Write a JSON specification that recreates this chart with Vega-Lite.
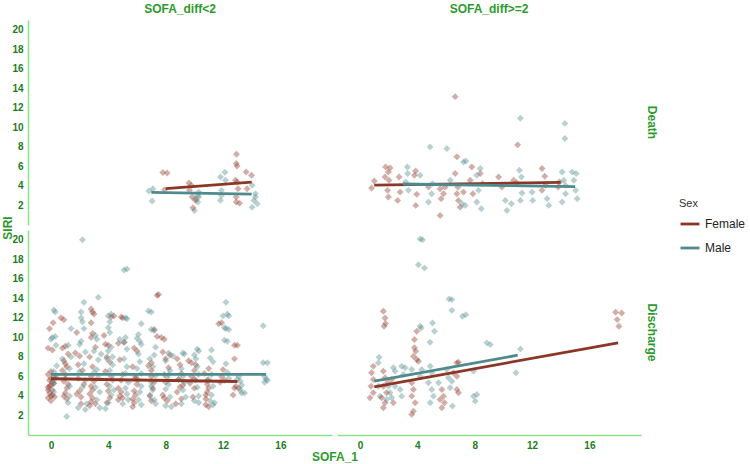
{
  "$schema": "https://vega.github.io/schema/vega-lite/v6.json",
  "padding": {"left": 2, "top": 3, "right": 2, "bottom": 2},
  "background": "white",
  "data": {
    "values": [
      {"diff":"SOFA_diff<2","outcome":"Death","sex":"Female","sofa":8.0,"siri":3.72,"fit":true},
      {"diff":"SOFA_diff<2","outcome":"Death","sex":"Female","sofa":14.0,"siri":4.40,"fit":true},
      {"diff":"SOFA_diff<2","outcome":"Death","sex":"Male","sofa":7.0,"siri":3.34,"fit":true},
      {"diff":"SOFA_diff<2","outcome":"Death","sex":"Male","sofa":14.0,"siri":3.17,"fit":true},
      {"diff":"SOFA_diff>=2","outcome":"Death","sex":"Female","sofa":1.0,"siri":4.09,"fit":true},
      {"diff":"SOFA_diff>=2","outcome":"Death","sex":"Female","sofa":14.0,"siri":4.37,"fit":true},
      {"diff":"SOFA_diff>=2","outcome":"Death","sex":"Male","sofa":3.0,"siri":4.20,"fit":true},
      {"diff":"SOFA_diff>=2","outcome":"Death","sex":"Male","sofa":15.0,"siri":3.93,"fit":true},
      {"diff":"SOFA_diff<2","outcome":"Discharge","sex":"Female","sofa":0.0,"siri":5.76,"fit":true},
      {"diff":"SOFA_diff<2","outcome":"Discharge","sex":"Female","sofa":13.0,"siri":5.48,"fit":true},
      {"diff":"SOFA_diff<2","outcome":"Discharge","sex":"Male","sofa":0.0,"siri":6.22,"fit":true},
      {"diff":"SOFA_diff<2","outcome":"Discharge","sex":"Male","sofa":15.0,"siri":6.22,"fit":true},
      {"diff":"SOFA_diff>=2","outcome":"Discharge","sex":"Female","sofa":1.0,"siri":4.94,"fit":true},
      {"diff":"SOFA_diff>=2","outcome":"Discharge","sex":"Female","sofa":18.0,"siri":9.44,"fit":true},
      {"diff":"SOFA_diff>=2","outcome":"Discharge","sex":"Male","sofa":1.0,"siri":5.51,"fit":true},
      {"diff":"SOFA_diff>=2","outcome":"Discharge","sex":"Male","sofa":11.0,"siri":8.17,"fit":true},

      {"diff":"SOFA_diff<2","outcome":"Death","sex":"Male","sofa":6.83,"siri":3.48},
      {"diff":"SOFA_diff<2","outcome":"Death","sex":"Male","sofa":7.11,"siri":3.72},
      {"diff":"SOFA_diff<2","outcome":"Death","sex":"Male","sofa":7.06,"siri":2.45},
      {"diff":"SOFA_diff<2","outcome":"Death","sex":"Male","sofa":10.01,"siri":1.49},
      {"diff":"SOFA_diff<2","outcome":"Death","sex":"Male","sofa":10.24,"siri":2.35},
      {"diff":"SOFA_diff<2","outcome":"Death","sex":"Male","sofa":10.24,"siri":3.03},
      {"diff":"SOFA_diff<2","outcome":"Death","sex":"Male","sofa":10.31,"siri":3.37},
      {"diff":"SOFA_diff<2","outcome":"Death","sex":"Male","sofa":11.82,"siri":4.92},
      {"diff":"SOFA_diff<2","outcome":"Death","sex":"Male","sofa":12.13,"siri":5.4},
      {"diff":"SOFA_diff<2","outcome":"Death","sex":"Male","sofa":12.17,"siri":4.58},
      {"diff":"SOFA_diff<2","outcome":"Death","sex":"Male","sofa":11.89,"siri":3.03},
      {"diff":"SOFA_diff<2","outcome":"Death","sex":"Male","sofa":11.82,"siri":2.52},
      {"diff":"SOFA_diff<2","outcome":"Death","sex":"Male","sofa":11.89,"siri":3.55},
      {"diff":"SOFA_diff<2","outcome":"Death","sex":"Male","sofa":14.03,"siri":4.06},
      {"diff":"SOFA_diff<2","outcome":"Death","sex":"Male","sofa":14.26,"siri":3.21},
      {"diff":"SOFA_diff<2","outcome":"Death","sex":"Male","sofa":14.15,"siri":2.52},
      {"diff":"SOFA_diff<2","outcome":"Death","sex":"Male","sofa":14.38,"siri":2.18},
      {"diff":"SOFA_diff<2","outcome":"Death","sex":"Male","sofa":14.03,"siri":1.83},
      {"diff":"SOFA_diff<2","outcome":"Death","sex":"Male","sofa":14.26,"siri":2.86},
      {"diff":"SOFA_diff<2","outcome":"Death","sex":"Male","sofa":10.08,"siri":2.7},
      {"diff":"SOFA_diff<2","outcome":"Death","sex":"Male","sofa":10.31,"siri":2.86},
      {"diff":"SOFA_diff<2","outcome":"Death","sex":"Female","sofa":7.8,"siri":5.37},
      {"diff":"SOFA_diff<2","outcome":"Death","sex":"Female","sofa":8.1,"siri":5.33},
      {"diff":"SOFA_diff<2","outcome":"Death","sex":"Female","sofa":7.92,"siri":3.62},
      {"diff":"SOFA_diff<2","outcome":"Death","sex":"Female","sofa":9.62,"siri":4.3},
      {"diff":"SOFA_diff<2","outcome":"Death","sex":"Female","sofa":9.8,"siri":4.06},
      {"diff":"SOFA_diff<2","outcome":"Death","sex":"Female","sofa":9.85,"siri":2.86},
      {"diff":"SOFA_diff<2","outcome":"Death","sex":"Female","sofa":9.9,"siri":1.77},
      {"diff":"SOFA_diff<2","outcome":"Death","sex":"Female","sofa":9.66,"siri":3.55},
      {"diff":"SOFA_diff<2","outcome":"Death","sex":"Female","sofa":12.94,"siri":7.25},
      {"diff":"SOFA_diff<2","outcome":"Death","sex":"Female","sofa":12.92,"siri":6.3},
      {"diff":"SOFA_diff<2","outcome":"Death","sex":"Female","sofa":12.98,"siri":6.05},
      {"diff":"SOFA_diff<2","outcome":"Death","sex":"Female","sofa":12.87,"siri":4.58},
      {"diff":"SOFA_diff<2","outcome":"Death","sex":"Female","sofa":12.98,"siri":4.4},
      {"diff":"SOFA_diff<2","outcome":"Death","sex":"Female","sofa":13.05,"siri":3.72},
      {"diff":"SOFA_diff<2","outcome":"Death","sex":"Female","sofa":12.92,"siri":2.35},
      {"diff":"SOFA_diff<2","outcome":"Death","sex":"Female","sofa":13.15,"siri":2.24},
      {"diff":"SOFA_diff<2","outcome":"Death","sex":"Female","sofa":13.61,"siri":5.43},
      {"diff":"SOFA_diff<2","outcome":"Death","sex":"Female","sofa":13.99,"siri":5.09},
      {"diff":"SOFA_diff<2","outcome":"Death","sex":"Female","sofa":13.68,"siri":3.72},
      {"diff":"SOFA_diff<2","outcome":"Death","sex":"Female","sofa":12.92,"siri":2.86},
      {"diff":"SOFA_diff<2","outcome":"Death","sex":"Female","sofa":10.08,"siri":2.52},

      {"diff":"SOFA_diff>=2","outcome":"Death","sex":"Female","sofa":6.64,"siri":13.15},
      {"diff":"SOFA_diff>=2","outcome":"Death","sex":"Female","sofa":11.0,"siri":8.21},
      {"diff":"SOFA_diff>=2","outcome":"Death","sex":"Female","sofa":1.0,"siri":4.51},
      {"diff":"SOFA_diff>=2","outcome":"Death","sex":"Female","sofa":0.81,"siri":3.79},
      {"diff":"SOFA_diff>=2","outcome":"Death","sex":"Female","sofa":1.79,"siri":5.95},
      {"diff":"SOFA_diff>=2","outcome":"Death","sex":"Female","sofa":2.1,"siri":5.84},
      {"diff":"SOFA_diff>=2","outcome":"Death","sex":"Female","sofa":1.98,"siri":5.43},
      {"diff":"SOFA_diff>=2","outcome":"Death","sex":"Female","sofa":1.75,"siri":4.92},
      {"diff":"SOFA_diff>=2","outcome":"Death","sex":"Female","sofa":2.03,"siri":4.58},
      {"diff":"SOFA_diff>=2","outcome":"Death","sex":"Female","sofa":1.93,"siri":3.55},
      {"diff":"SOFA_diff>=2","outcome":"Death","sex":"Female","sofa":1.98,"siri":2.86},
      {"diff":"SOFA_diff>=2","outcome":"Death","sex":"Female","sofa":2.63,"siri":2.52},
      {"diff":"SOFA_diff>=2","outcome":"Death","sex":"Female","sofa":2.8,"siri":3.37},
      {"diff":"SOFA_diff>=2","outcome":"Death","sex":"Female","sofa":2.73,"siri":4.92},
      {"diff":"SOFA_diff>=2","outcome":"Death","sex":"Female","sofa":3.89,"siri":5.53},
      {"diff":"SOFA_diff>=2","outcome":"Death","sex":"Female","sofa":3.8,"siri":5.09},
      {"diff":"SOFA_diff>=2","outcome":"Death","sex":"Female","sofa":3.96,"siri":3.14},
      {"diff":"SOFA_diff>=2","outcome":"Death","sex":"Female","sofa":3.89,"siri":2.01},
      {"diff":"SOFA_diff>=2","outcome":"Death","sex":"Female","sofa":5.59,"siri":3.72},
      {"diff":"SOFA_diff>=2","outcome":"Death","sex":"Female","sofa":5.66,"siri":2.7},
      {"diff":"SOFA_diff>=2","outcome":"Death","sex":"Female","sofa":5.59,"siri":0.98},
      {"diff":"SOFA_diff>=2","outcome":"Death","sex":"Female","sofa":6.76,"siri":6.98},
      {"diff":"SOFA_diff>=2","outcome":"Death","sex":"Female","sofa":6.64,"siri":5.27},
      {"diff":"SOFA_diff>=2","outcome":"Death","sex":"Female","sofa":6.83,"siri":3.89},
      {"diff":"SOFA_diff>=2","outcome":"Death","sex":"Female","sofa":6.87,"siri":2.52},
      {"diff":"SOFA_diff>=2","outcome":"Death","sex":"Female","sofa":6.76,"siri":3.21},
      {"diff":"SOFA_diff>=2","outcome":"Death","sex":"Female","sofa":7.22,"siri":3.37},
      {"diff":"SOFA_diff>=2","outcome":"Death","sex":"Female","sofa":6.99,"siri":1.83},
      {"diff":"SOFA_diff>=2","outcome":"Death","sex":"Female","sofa":5.83,"siri":3.21},
      {"diff":"SOFA_diff>=2","outcome":"Death","sex":"Female","sofa":7.8,"siri":5.95},
      {"diff":"SOFA_diff>=2","outcome":"Death","sex":"Female","sofa":7.69,"siri":4.58},
      {"diff":"SOFA_diff>=2","outcome":"Death","sex":"Female","sofa":7.88,"siri":3.21},
      {"diff":"SOFA_diff>=2","outcome":"Death","sex":"Female","sofa":9.67,"siri":4.92},
      {"diff":"SOFA_diff>=2","outcome":"Death","sex":"Female","sofa":9.9,"siri":3.89},
      {"diff":"SOFA_diff>=2","outcome":"Death","sex":"Female","sofa":10.72,"siri":4.58},
      {"diff":"SOFA_diff>=2","outcome":"Death","sex":"Female","sofa":10.95,"siri":4.3},
      {"diff":"SOFA_diff>=2","outcome":"Death","sex":"Female","sofa":12.7,"siri":5.78},
      {"diff":"SOFA_diff>=2","outcome":"Death","sex":"Female","sofa":12.89,"siri":4.99},
      {"diff":"SOFA_diff>=2","outcome":"Death","sex":"Female","sofa":12.94,"siri":4.06},
      {"diff":"SOFA_diff>=2","outcome":"Death","sex":"Female","sofa":12.7,"siri":3.55},
      {"diff":"SOFA_diff>=2","outcome":"Death","sex":"Female","sofa":13.92,"siri":4.4},
      {"diff":"SOFA_diff>=2","outcome":"Death","sex":"Female","sofa":13.82,"siri":3.89},
      {"diff":"SOFA_diff>=2","outcome":"Death","sex":"Female","sofa":8.39,"siri":5.27},
      {"diff":"SOFA_diff>=2","outcome":"Death","sex":"Female","sofa":8.55,"siri":4.24},
      {"diff":"SOFA_diff>=2","outcome":"Death","sex":"Female","sofa":4.78,"siri":3.89},
      {"diff":"SOFA_diff>=2","outcome":"Death","sex":"Female","sofa":5.94,"siri":3.89},
      {"diff":"SOFA_diff>=2","outcome":"Death","sex":"Male","sofa":4.89,"siri":8.0},
      {"diff":"SOFA_diff>=2","outcome":"Death","sex":"Male","sofa":6.06,"siri":7.84},
      {"diff":"SOFA_diff>=2","outcome":"Death","sex":"Male","sofa":11.19,"siri":10.93},
      {"diff":"SOFA_diff>=2","outcome":"Death","sex":"Male","sofa":14.29,"siri":10.41},
      {"diff":"SOFA_diff>=2","outcome":"Death","sex":"Male","sofa":14.29,"siri":8.87},
      {"diff":"SOFA_diff>=2","outcome":"Death","sex":"Male","sofa":7.22,"siri":6.46},
      {"diff":"SOFA_diff>=2","outcome":"Death","sex":"Male","sofa":7.38,"siri":6.56},
      {"diff":"SOFA_diff>=2","outcome":"Death","sex":"Male","sofa":3.31,"siri":5.95},
      {"diff":"SOFA_diff>=2","outcome":"Death","sex":"Male","sofa":3.33,"siri":5.27},
      {"diff":"SOFA_diff>=2","outcome":"Death","sex":"Male","sofa":3.19,"siri":4.4},
      {"diff":"SOFA_diff>=2","outcome":"Death","sex":"Male","sofa":3.38,"siri":3.55},
      {"diff":"SOFA_diff>=2","outcome":"Death","sex":"Male","sofa":4.2,"siri":5.09},
      {"diff":"SOFA_diff>=2","outcome":"Death","sex":"Male","sofa":4.78,"siri":2.35},
      {"diff":"SOFA_diff>=2","outcome":"Death","sex":"Male","sofa":5.0,"siri":3.21},
      {"diff":"SOFA_diff>=2","outcome":"Death","sex":"Male","sofa":5.06,"siri":4.24},
      {"diff":"SOFA_diff>=2","outcome":"Death","sex":"Male","sofa":7.11,"siri":2.18},
      {"diff":"SOFA_diff>=2","outcome":"Death","sex":"Male","sofa":7.34,"siri":2.01},
      {"diff":"SOFA_diff>=2","outcome":"Death","sex":"Male","sofa":6.3,"siri":4.58},
      {"diff":"SOFA_diff>=2","outcome":"Death","sex":"Male","sofa":8.15,"siri":5.09},
      {"diff":"SOFA_diff>=2","outcome":"Death","sex":"Male","sofa":8.39,"siri":5.78},
      {"diff":"SOFA_diff>=2","outcome":"Death","sex":"Male","sofa":8.27,"siri":3.55},
      {"diff":"SOFA_diff>=2","outcome":"Death","sex":"Male","sofa":8.15,"siri":2.35},
      {"diff":"SOFA_diff>=2","outcome":"Death","sex":"Male","sofa":8.46,"siri":1.67},
      {"diff":"SOFA_diff>=2","outcome":"Death","sex":"Male","sofa":10.14,"siri":2.52},
      {"diff":"SOFA_diff>=2","outcome":"Death","sex":"Male","sofa":10.25,"siri":1.49},
      {"diff":"SOFA_diff>=2","outcome":"Death","sex":"Male","sofa":10.56,"siri":2.18},
      {"diff":"SOFA_diff>=2","outcome":"Death","sex":"Male","sofa":11.12,"siri":5.61},
      {"diff":"SOFA_diff>=2","outcome":"Death","sex":"Male","sofa":11.26,"siri":4.92},
      {"diff":"SOFA_diff>=2","outcome":"Death","sex":"Male","sofa":11.3,"siri":3.27},
      {"diff":"SOFA_diff>=2","outcome":"Death","sex":"Male","sofa":11.19,"siri":2.52},
      {"diff":"SOFA_diff>=2","outcome":"Death","sex":"Male","sofa":12.0,"siri":3.37},
      {"diff":"SOFA_diff>=2","outcome":"Death","sex":"Male","sofa":12.05,"siri":2.52},
      {"diff":"SOFA_diff>=2","outcome":"Death","sex":"Male","sofa":13.05,"siri":2.7},
      {"diff":"SOFA_diff>=2","outcome":"Death","sex":"Male","sofa":13.17,"siri":2.01},
      {"diff":"SOFA_diff>=2","outcome":"Death","sex":"Male","sofa":14.1,"siri":5.43},
      {"diff":"SOFA_diff>=2","outcome":"Death","sex":"Male","sofa":14.22,"siri":4.58},
      {"diff":"SOFA_diff>=2","outcome":"Death","sex":"Male","sofa":14.34,"siri":3.21},
      {"diff":"SOFA_diff>=2","outcome":"Death","sex":"Male","sofa":14.1,"siri":2.35},
      {"diff":"SOFA_diff>=2","outcome":"Death","sex":"Male","sofa":14.8,"siri":5.43},
      {"diff":"SOFA_diff>=2","outcome":"Death","sex":"Male","sofa":15.08,"siri":5.27},
      {"diff":"SOFA_diff>=2","outcome":"Death","sex":"Male","sofa":14.92,"siri":4.58},
      {"diff":"SOFA_diff>=2","outcome":"Death","sex":"Male","sofa":15.04,"siri":3.55},
      {"diff":"SOFA_diff>=2","outcome":"Death","sex":"Male","sofa":15.15,"siri":2.7},
      {"diff":"SOFA_diff>=2","outcome":"Death","sex":"Male","sofa":14.34,"siri":4.06},

      {"diff":"SOFA_diff>=2","outcome":"Discharge","sex":"Male","sofa":4.2,"siri":20.07},
      {"diff":"SOFA_diff>=2","outcome":"Discharge","sex":"Male","sofa":4.36,"siri":20.0},
      {"diff":"SOFA_diff>=2","outcome":"Discharge","sex":"Male","sofa":4.08,"siri":17.44},
      {"diff":"SOFA_diff>=2","outcome":"Discharge","sex":"Male","sofa":4.5,"siri":17.1},
      {"diff":"SOFA_diff>=2","outcome":"Discharge","sex":"Male","sofa":6.22,"siri":13.94},
      {"diff":"SOFA_diff>=2","outcome":"Discharge","sex":"Male","sofa":6.41,"siri":13.87},
      {"diff":"SOFA_diff>=2","outcome":"Discharge","sex":"Male","sofa":6.41,"siri":12.77},
      {"diff":"SOFA_diff>=2","outcome":"Discharge","sex":"Male","sofa":7.15,"siri":12.16},
      {"diff":"SOFA_diff>=2","outcome":"Discharge","sex":"Male","sofa":7.38,"siri":12.33},
      {"diff":"SOFA_diff>=2","outcome":"Discharge","sex":"Male","sofa":4.2,"siri":11.14},
      {"diff":"SOFA_diff>=2","outcome":"Discharge","sex":"Male","sofa":4.27,"siri":10.97},
      {"diff":"SOFA_diff>=2","outcome":"Discharge","sex":"Male","sofa":5.06,"siri":11.48},
      {"diff":"SOFA_diff>=2","outcome":"Discharge","sex":"Male","sofa":5.2,"siri":10.62},
      {"diff":"SOFA_diff>=2","outcome":"Discharge","sex":"Male","sofa":4.89,"siri":9.5},
      {"diff":"SOFA_diff>=2","outcome":"Discharge","sex":"Male","sofa":8.85,"siri":9.44},
      {"diff":"SOFA_diff>=2","outcome":"Discharge","sex":"Male","sofa":9.09,"siri":9.26},
      {"diff":"SOFA_diff>=2","outcome":"Discharge","sex":"Male","sofa":11.19,"siri":8.82},
      {"diff":"SOFA_diff>=2","outcome":"Discharge","sex":"Male","sofa":10.88,"siri":6.37},
      {"diff":"SOFA_diff>=2","outcome":"Discharge","sex":"Male","sofa":1.33,"siri":7.97},
      {"diff":"SOFA_diff>=2","outcome":"Discharge","sex":"Male","sofa":1.28,"siri":7.39},
      {"diff":"SOFA_diff>=2","outcome":"Discharge","sex":"Male","sofa":2.33,"siri":6.88},
      {"diff":"SOFA_diff>=2","outcome":"Discharge","sex":"Male","sofa":2.45,"siri":6.54},
      {"diff":"SOFA_diff>=2","outcome":"Discharge","sex":"Male","sofa":2.91,"siri":7.05},
      {"diff":"SOFA_diff>=2","outcome":"Discharge","sex":"Male","sofa":3.15,"siri":6.88},
      {"diff":"SOFA_diff>=2","outcome":"Discharge","sex":"Male","sofa":3.03,"siri":6.2},
      {"diff":"SOFA_diff>=2","outcome":"Discharge","sex":"Male","sofa":3.61,"siri":6.71},
      {"diff":"SOFA_diff>=2","outcome":"Discharge","sex":"Male","sofa":4.9,"siri":7.05},
      {"diff":"SOFA_diff>=2","outcome":"Discharge","sex":"Male","sofa":5.01,"siri":6.37},
      {"diff":"SOFA_diff>=2","outcome":"Discharge","sex":"Male","sofa":4.31,"siri":6.71},
      {"diff":"SOFA_diff>=2","outcome":"Discharge","sex":"Male","sofa":6.06,"siri":6.71},
      {"diff":"SOFA_diff>=2","outcome":"Discharge","sex":"Male","sofa":6.17,"siri":5.86},
      {"diff":"SOFA_diff>=2","outcome":"Discharge","sex":"Male","sofa":7.92,"siri":6.54},
      {"diff":"SOFA_diff>=2","outcome":"Discharge","sex":"Male","sofa":1.98,"siri":5.0},
      {"diff":"SOFA_diff>=2","outcome":"Discharge","sex":"Male","sofa":2.1,"siri":4.32},
      {"diff":"SOFA_diff>=2","outcome":"Discharge","sex":"Male","sofa":2.21,"siri":3.81},
      {"diff":"SOFA_diff>=2","outcome":"Discharge","sex":"Male","sofa":1.86,"siri":3.64},
      {"diff":"SOFA_diff>=2","outcome":"Discharge","sex":"Male","sofa":1.28,"siri":5.0},
      {"diff":"SOFA_diff>=2","outcome":"Discharge","sex":"Male","sofa":1.4,"siri":3.98},
      {"diff":"SOFA_diff>=2","outcome":"Discharge","sex":"Male","sofa":2.91,"siri":3.98},
      {"diff":"SOFA_diff>=2","outcome":"Discharge","sex":"Male","sofa":2.8,"siri":4.66},
      {"diff":"SOFA_diff>=2","outcome":"Discharge","sex":"Male","sofa":4.78,"siri":5.35},
      {"diff":"SOFA_diff>=2","outcome":"Discharge","sex":"Male","sofa":5.01,"siri":4.66},
      {"diff":"SOFA_diff>=2","outcome":"Discharge","sex":"Male","sofa":4.9,"siri":3.3},
      {"diff":"SOFA_diff>=2","outcome":"Discharge","sex":"Male","sofa":5.13,"siri":3.98},
      {"diff":"SOFA_diff>=2","outcome":"Discharge","sex":"Male","sofa":4.2,"siri":6.02},
      {"diff":"SOFA_diff>=2","outcome":"Discharge","sex":"Male","sofa":6.41,"siri":5.51},
      {"diff":"SOFA_diff>=2","outcome":"Discharge","sex":"Male","sofa":6.29,"siri":4.84},
      {"diff":"SOFA_diff>=2","outcome":"Discharge","sex":"Male","sofa":6.45,"siri":2.96},
      {"diff":"SOFA_diff>=2","outcome":"Discharge","sex":"Male","sofa":7.92,"siri":3.98},
      {"diff":"SOFA_diff>=2","outcome":"Discharge","sex":"Male","sofa":8.15,"siri":4.15},
      {"diff":"SOFA_diff>=2","outcome":"Discharge","sex":"Male","sofa":8.04,"siri":3.47},
      {"diff":"SOFA_diff>=2","outcome":"Discharge","sex":"Male","sofa":5.48,"siri":5.35},
      {"diff":"SOFA_diff>=2","outcome":"Discharge","sex":"Male","sofa":2.45,"siri":5.0},
      {"diff":"SOFA_diff>=2","outcome":"Discharge","sex":"Female","sofa":1.63,"siri":12.67},
      {"diff":"SOFA_diff>=2","outcome":"Discharge","sex":"Female","sofa":1.75,"siri":11.99},
      {"diff":"SOFA_diff>=2","outcome":"Discharge","sex":"Female","sofa":1.79,"siri":11.41},
      {"diff":"SOFA_diff>=2","outcome":"Discharge","sex":"Female","sofa":1.68,"siri":11.14},
      {"diff":"SOFA_diff>=2","outcome":"Discharge","sex":"Female","sofa":17.83,"siri":12.57},
      {"diff":"SOFA_diff>=2","outcome":"Discharge","sex":"Female","sofa":18.25,"siri":12.5},
      {"diff":"SOFA_diff>=2","outcome":"Discharge","sex":"Female","sofa":17.94,"siri":11.82},
      {"diff":"SOFA_diff>=2","outcome":"Discharge","sex":"Female","sofa":18.06,"siri":11.14},
      {"diff":"SOFA_diff>=2","outcome":"Discharge","sex":"Female","sofa":3.96,"siri":10.62},
      {"diff":"SOFA_diff>=2","outcome":"Discharge","sex":"Female","sofa":3.8,"siri":9.78},
      {"diff":"SOFA_diff>=2","outcome":"Discharge","sex":"Female","sofa":3.8,"siri":8.93},
      {"diff":"SOFA_diff>=2","outcome":"Discharge","sex":"Female","sofa":3.89,"siri":8.58},
      {"diff":"SOFA_diff>=2","outcome":"Discharge","sex":"Female","sofa":3.73,"siri":8.07},
      {"diff":"SOFA_diff>=2","outcome":"Discharge","sex":"Female","sofa":3.96,"siri":7.73},
      {"diff":"SOFA_diff>=2","outcome":"Discharge","sex":"Female","sofa":6.76,"siri":7.39},
      {"diff":"SOFA_diff>=2","outcome":"Discharge","sex":"Female","sofa":6.87,"siri":7.46},
      {"diff":"SOFA_diff>=2","outcome":"Discharge","sex":"Female","sofa":0.93,"siri":7.05},
      {"diff":"SOFA_diff>=2","outcome":"Discharge","sex":"Female","sofa":0.81,"siri":6.37},
      {"diff":"SOFA_diff>=2","outcome":"Discharge","sex":"Female","sofa":0.93,"siri":5.69},
      {"diff":"SOFA_diff>=2","outcome":"Discharge","sex":"Female","sofa":0.77,"siri":5.0},
      {"diff":"SOFA_diff>=2","outcome":"Discharge","sex":"Female","sofa":0.93,"siri":4.32},
      {"diff":"SOFA_diff>=2","outcome":"Discharge","sex":"Female","sofa":0.7,"siri":3.81},
      {"diff":"SOFA_diff>=2","outcome":"Discharge","sex":"Female","sofa":1.63,"siri":6.54},
      {"diff":"SOFA_diff>=2","outcome":"Discharge","sex":"Female","sofa":1.75,"siri":5.86},
      {"diff":"SOFA_diff>=2","outcome":"Discharge","sex":"Female","sofa":1.63,"siri":5.0},
      {"diff":"SOFA_diff>=2","outcome":"Discharge","sex":"Female","sofa":1.86,"siri":4.32},
      {"diff":"SOFA_diff>=2","outcome":"Discharge","sex":"Female","sofa":1.51,"siri":3.81},
      {"diff":"SOFA_diff>=2","outcome":"Discharge","sex":"Female","sofa":1.75,"siri":3.3},
      {"diff":"SOFA_diff>=2","outcome":"Discharge","sex":"Female","sofa":1.63,"siri":2.79},
      {"diff":"SOFA_diff>=2","outcome":"Discharge","sex":"Female","sofa":1.93,"siri":5.35},
      {"diff":"SOFA_diff>=2","outcome":"Discharge","sex":"Female","sofa":3.73,"siri":4.66},
      {"diff":"SOFA_diff>=2","outcome":"Discharge","sex":"Female","sofa":3.61,"siri":3.98},
      {"diff":"SOFA_diff>=2","outcome":"Discharge","sex":"Female","sofa":3.85,"siri":3.3},
      {"diff":"SOFA_diff>=2","outcome":"Discharge","sex":"Female","sofa":3.73,"siri":2.44},
      {"diff":"SOFA_diff>=2","outcome":"Discharge","sex":"Female","sofa":3.61,"siri":2.11},
      {"diff":"SOFA_diff>=2","outcome":"Discharge","sex":"Female","sofa":5.71,"siri":4.66},
      {"diff":"SOFA_diff>=2","outcome":"Discharge","sex":"Female","sofa":5.83,"siri":3.98},
      {"diff":"SOFA_diff>=2","outcome":"Discharge","sex":"Female","sofa":5.59,"siri":3.64},
      {"diff":"SOFA_diff>=2","outcome":"Discharge","sex":"Female","sofa":5.89,"siri":3.3},
      {"diff":"SOFA_diff>=2","outcome":"Discharge","sex":"Female","sofa":5.71,"siri":2.79},
      {"diff":"SOFA_diff>=2","outcome":"Discharge","sex":"Female","sofa":6.76,"siri":4.66},
      {"diff":"SOFA_diff>=2","outcome":"Discharge","sex":"Female","sofa":6.87,"siri":4.32},
      {"diff":"SOFA_diff>=2","outcome":"Discharge","sex":"Female","sofa":6.76,"siri":6.02},
      {"diff":"SOFA_diff>=2","outcome":"Discharge","sex":"Female","sofa":6.52,"siri":6.37},
      {"diff":"SOFA_diff>=2","outcome":"Discharge","sex":"Female","sofa":4.08,"siri":7.56},
      {"diff":"SOFA_diff>=2","outcome":"Discharge","sex":"Female","sofa":3.61,"siri":5.35},
      {"diff":"SOFA_diff>=2","outcome":"Discharge","sex":"Female","sofa":2.21,"siri":5.69},
      {"diff":"SOFA_diff>=2","outcome":"Discharge","sex":"Female","sofa":2.33,"siri":3.3},

      {"diff":"SOFA_diff<2","outcome":"Discharge","sex":"Female","sofa":-0.2,"siri":3.8},
      {"diff":"SOFA_diff<2","outcome":"Discharge","sex":"Female","sofa":0.0,"siri":4.0},
      {"diff":"SOFA_diff<2","outcome":"Discharge","sex":"Female","sofa":-0.1,"siri":4.3},
      {"diff":"SOFA_diff<2","outcome":"Discharge","sex":"Female","sofa":0.1,"siri":4.6},
      {"diff":"SOFA_diff<2","outcome":"Discharge","sex":"Female","sofa":-0.2,"siri":4.9},
      {"diff":"SOFA_diff<2","outcome":"Discharge","sex":"Female","sofa":0.0,"siri":5.1},
      {"diff":"SOFA_diff<2","outcome":"Discharge","sex":"Female","sofa":0.1,"siri":5.4},
      {"diff":"SOFA_diff<2","outcome":"Discharge","sex":"Female","sofa":-0.1,"siri":5.6},
      {"diff":"SOFA_diff<2","outcome":"Discharge","sex":"Female","sofa":0.0,"siri":5.8},
      {"diff":"SOFA_diff<2","outcome":"Discharge","sex":"Female","sofa":0.2,"siri":6.0},
      {"diff":"SOFA_diff<2","outcome":"Discharge","sex":"Female","sofa":-0.2,"siri":6.2},
      {"diff":"SOFA_diff<2","outcome":"Discharge","sex":"Female","sofa":0.0,"siri":3.5},
      {"diff":"SOFA_diff<2","outcome":"Discharge","sex":"Female","sofa":0.1,"siri":4.1},
      {"diff":"SOFA_diff<2","outcome":"Discharge","sex":"Female","sofa":-0.1,"siri":5.0},
      {"diff":"SOFA_diff<2","outcome":"Discharge","sex":"Female","sofa":0.2,"siri":5.3},
      {"diff":"SOFA_diff<2","outcome":"Discharge","sex":"Female","sofa":0.0,"siri":6.5},
      {"diff":"SOFA_diff<2","outcome":"Discharge","sex":"Female","sofa":0.15,"siri":11.5},
      {"diff":"SOFA_diff<2","outcome":"Discharge","sex":"Female","sofa":-0.1,"siri":10.9},
      {"diff":"SOFA_diff<2","outcome":"Discharge","sex":"Female","sofa":-0.2,"siri":8.9},
      {"diff":"SOFA_diff<2","outcome":"Discharge","sex":"Female","sofa":0.1,"siri":8.7},
      {"diff":"SOFA_diff<2","outcome":"Discharge","sex":"Female","sofa":-0.2,"siri":4.6},
      {"diff":"SOFA_diff<2","outcome":"Discharge","sex":"Female","sofa":0.25,"siri":3.9},
      {"diff":"SOFA_diff<2","outcome":"Discharge","sex":"Male","sofa":0.2,"siri":12.8},
      {"diff":"SOFA_diff<2","outcome":"Discharge","sex":"Male","sofa":0.3,"siri":12.6},
      {"diff":"SOFA_diff<2","outcome":"Discharge","sex":"Male","sofa":0.1,"siri":10.0},
      {"diff":"SOFA_diff<2","outcome":"Discharge","sex":"Male","sofa":0.3,"siri":10.1},
      {"diff":"SOFA_diff<2","outcome":"Discharge","sex":"Male","sofa":0.0,"siri":9.8},
      {"diff":"SOFA_diff<2","outcome":"Discharge","sex":"Male","sofa":0.2,"siri":6.5},
      {"diff":"SOFA_diff<2","outcome":"Discharge","sex":"Male","sofa":0.3,"siri":5.8},
      {"diff":"SOFA_diff<2","outcome":"Discharge","sex":"Male","sofa":0.2,"siri":5.3},
      {"diff":"SOFA_diff<2","outcome":"Discharge","sex":"Male","sofa":0.4,"siri":6.1},
      {"diff":"SOFA_diff<2","outcome":"Discharge","sex":"Male","sofa":0.4,"siri":7.1},
      {"diff":"SOFA_diff<2","outcome":"Discharge","sex":"Male","sofa":0.2,"siri":4.4},
      {"diff":"SOFA_diff<2","outcome":"Discharge","sex":"Male","sofa":0.35,"siri":9.2},
      {"diff":"SOFA_diff<2","outcome":"Discharge","sex":"Female","sofa":0.9,"siri":7.6},
      {"diff":"SOFA_diff<2","outcome":"Discharge","sex":"Female","sofa":1.0,"siri":7.3},
      {"diff":"SOFA_diff<2","outcome":"Discharge","sex":"Female","sofa":1.1,"siri":7.0},
      {"diff":"SOFA_diff<2","outcome":"Discharge","sex":"Female","sofa":0.8,"siri":6.6},
      {"diff":"SOFA_diff<2","outcome":"Discharge","sex":"Female","sofa":1.0,"siri":6.2},
      {"diff":"SOFA_diff<2","outcome":"Discharge","sex":"Female","sofa":0.9,"siri":5.5},
      {"diff":"SOFA_diff<2","outcome":"Discharge","sex":"Female","sofa":1.1,"siri":4.8},
      {"diff":"SOFA_diff<2","outcome":"Discharge","sex":"Female","sofa":1.0,"siri":4.3},
      {"diff":"SOFA_diff<2","outcome":"Discharge","sex":"Female","sofa":0.9,"siri":4.0},
      {"diff":"SOFA_diff<2","outcome":"Discharge","sex":"Female","sofa":1.1,"siri":3.7},
      {"diff":"SOFA_diff<2","outcome":"Discharge","sex":"Female","sofa":0.8,"siri":8.9},
      {"diff":"SOFA_diff<2","outcome":"Discharge","sex":"Female","sofa":1.0,"siri":9.1},
      {"diff":"SOFA_diff<2","outcome":"Discharge","sex":"Female","sofa":0.7,"siri":12.0},
      {"diff":"SOFA_diff<2","outcome":"Discharge","sex":"Female","sofa":0.9,"siri":11.8},
      {"diff":"SOFA_diff<2","outcome":"Discharge","sex":"Female","sofa":1.2,"siri":8.3},
      {"diff":"SOFA_diff<2","outcome":"Discharge","sex":"Female","sofa":1.2,"siri":5.2},
      {"diff":"SOFA_diff<2","outcome":"Discharge","sex":"Male","sofa":1.1,"siri":1.9},
      {"diff":"SOFA_diff<2","outcome":"Discharge","sex":"Male","sofa":1.2,"siri":3.3},
      {"diff":"SOFA_diff<2","outcome":"Discharge","sex":"Male","sofa":1.3,"siri":4.0},
      {"diff":"SOFA_diff<2","outcome":"Discharge","sex":"Male","sofa":1.0,"siri":5.8},
      {"diff":"SOFA_diff<2","outcome":"Discharge","sex":"Male","sofa":1.3,"siri":6.8},
      {"diff":"SOFA_diff<2","outcome":"Discharge","sex":"Male","sofa":1.2,"siri":9.2},
      {"diff":"SOFA_diff<2","outcome":"Discharge","sex":"Male","sofa":1.4,"siri":10.9},
      {"diff":"SOFA_diff<2","outcome":"Discharge","sex":"Male","sofa":0.8,"siri":7.8},
      {"diff":"SOFA_diff<2","outcome":"Discharge","sex":"Male","sofa":1.3,"siri":5.0},
      {"diff":"SOFA_diff<2","outcome":"Discharge","sex":"Male","sofa":1.4,"siri":8.0},
      {"diff":"SOFA_diff<2","outcome":"Discharge","sex":"Female","sofa":1.8,"siri":4.2},
      {"diff":"SOFA_diff<2","outcome":"Discharge","sex":"Female","sofa":2.0,"siri":4.5},
      {"diff":"SOFA_diff<2","outcome":"Discharge","sex":"Female","sofa":2.1,"siri":3.9},
      {"diff":"SOFA_diff<2","outcome":"Discharge","sex":"Female","sofa":1.9,"siri":5.8},
      {"diff":"SOFA_diff<2","outcome":"Discharge","sex":"Female","sofa":2.2,"siri":6.6},
      {"diff":"SOFA_diff<2","outcome":"Discharge","sex":"Female","sofa":1.7,"siri":8.4},
      {"diff":"SOFA_diff<2","outcome":"Discharge","sex":"Female","sofa":2.0,"siri":8.1},
      {"diff":"SOFA_diff<2","outcome":"Discharge","sex":"Female","sofa":1.8,"siri":10.5},
      {"diff":"SOFA_diff<2","outcome":"Discharge","sex":"Female","sofa":2.1,"siri":3.2},
      {"diff":"SOFA_diff<2","outcome":"Discharge","sex":"Female","sofa":2.3,"siri":5.2},
      {"diff":"SOFA_diff<2","outcome":"Discharge","sex":"Female","sofa":1.9,"siri":7.2},
      {"diff":"SOFA_diff<2","outcome":"Discharge","sex":"Male","sofa":2.2,"siri":20.0},
      {"diff":"SOFA_diff<2","outcome":"Discharge","sex":"Male","sofa":2.3,"siri":13.6},
      {"diff":"SOFA_diff<2","outcome":"Discharge","sex":"Male","sofa":2.1,"siri":12.6},
      {"diff":"SOFA_diff<2","outcome":"Discharge","sex":"Male","sofa":2.2,"siri":11.6},
      {"diff":"SOFA_diff<2","outcome":"Discharge","sex":"Male","sofa":2.3,"siri":10.9},
      {"diff":"SOFA_diff<2","outcome":"Discharge","sex":"Male","sofa":2.1,"siri":9.6},
      {"diff":"SOFA_diff<2","outcome":"Discharge","sex":"Male","sofa":2.0,"siri":9.3},
      {"diff":"SOFA_diff<2","outcome":"Discharge","sex":"Male","sofa":2.4,"siri":8.5},
      {"diff":"SOFA_diff<2","outcome":"Discharge","sex":"Male","sofa":2.3,"siri":7.3},
      {"diff":"SOFA_diff<2","outcome":"Discharge","sex":"Male","sofa":2.0,"siri":6.5},
      {"diff":"SOFA_diff<2","outcome":"Discharge","sex":"Male","sofa":2.4,"siri":5.6},
      {"diff":"SOFA_diff<2","outcome":"Discharge","sex":"Male","sofa":2.2,"siri":4.9},
      {"diff":"SOFA_diff<2","outcome":"Discharge","sex":"Male","sofa":2.5,"siri":3.2},
      {"diff":"SOFA_diff<2","outcome":"Discharge","sex":"Male","sofa":2.4,"siri":2.6},
      {"diff":"SOFA_diff<2","outcome":"Discharge","sex":"Male","sofa":2.1,"siri":12.0},
      {"diff":"SOFA_diff<2","outcome":"Discharge","sex":"Male","sofa":1.9,"siri":2.8},
      {"diff":"SOFA_diff<2","outcome":"Discharge","sex":"Female","sofa":2.7,"siri":3.0},
      {"diff":"SOFA_diff<2","outcome":"Discharge","sex":"Female","sofa":2.8,"siri":3.4},
      {"diff":"SOFA_diff<2","outcome":"Discharge","sex":"Female","sofa":2.9,"siri":3.8},
      {"diff":"SOFA_diff<2","outcome":"Discharge","sex":"Female","sofa":2.7,"siri":4.2},
      {"diff":"SOFA_diff<2","outcome":"Discharge","sex":"Female","sofa":2.9,"siri":4.6},
      {"diff":"SOFA_diff<2","outcome":"Discharge","sex":"Female","sofa":2.8,"siri":5.0},
      {"diff":"SOFA_diff<2","outcome":"Discharge","sex":"Female","sofa":3.0,"siri":5.5},
      {"diff":"SOFA_diff<2","outcome":"Discharge","sex":"Female","sofa":2.8,"siri":6.0},
      {"diff":"SOFA_diff<2","outcome":"Discharge","sex":"Female","sofa":2.9,"siri":7.0},
      {"diff":"SOFA_diff<2","outcome":"Discharge","sex":"Female","sofa":2.7,"siri":8.0},
      {"diff":"SOFA_diff<2","outcome":"Discharge","sex":"Female","sofa":2.8,"siri":10.0},
      {"diff":"SOFA_diff<2","outcome":"Discharge","sex":"Female","sofa":2.9,"siri":10.4},
      {"diff":"SOFA_diff<2","outcome":"Discharge","sex":"Female","sofa":2.8,"siri":12.9},
      {"diff":"SOFA_diff<2","outcome":"Discharge","sex":"Female","sofa":2.9,"siri":12.6},
      {"diff":"SOFA_diff<2","outcome":"Discharge","sex":"Female","sofa":3.0,"siri":12.4},
      {"diff":"SOFA_diff<2","outcome":"Discharge","sex":"Female","sofa":2.8,"siri":11.5},
      {"diff":"SOFA_diff<2","outcome":"Discharge","sex":"Female","sofa":3.1,"siri":9.0},
      {"diff":"SOFA_diff<2","outcome":"Discharge","sex":"Female","sofa":3.1,"siri":3.2},
      {"diff":"SOFA_diff<2","outcome":"Discharge","sex":"Male","sofa":3.3,"siri":14.1},
      {"diff":"SOFA_diff<2","outcome":"Discharge","sex":"Male","sofa":3.1,"siri":10.2},
      {"diff":"SOFA_diff<2","outcome":"Discharge","sex":"Male","sofa":3.2,"siri":9.8},
      {"diff":"SOFA_diff<2","outcome":"Discharge","sex":"Male","sofa":3.0,"siri":8.6},
      {"diff":"SOFA_diff<2","outcome":"Discharge","sex":"Male","sofa":3.3,"siri":7.7},
      {"diff":"SOFA_diff<2","outcome":"Discharge","sex":"Male","sofa":3.2,"siri":6.7},
      {"diff":"SOFA_diff<2","outcome":"Discharge","sex":"Male","sofa":3.0,"siri":6.4},
      {"diff":"SOFA_diff<2","outcome":"Discharge","sex":"Male","sofa":3.3,"siri":5.9},
      {"diff":"SOFA_diff<2","outcome":"Discharge","sex":"Male","sofa":3.1,"siri":4.9},
      {"diff":"SOFA_diff<2","outcome":"Discharge","sex":"Male","sofa":3.4,"siri":4.4},
      {"diff":"SOFA_diff<2","outcome":"Discharge","sex":"Male","sofa":3.2,"siri":3.6},
      {"diff":"SOFA_diff<2","outcome":"Discharge","sex":"Male","sofa":3.4,"siri":2.8},
      {"diff":"SOFA_diff<2","outcome":"Discharge","sex":"Male","sofa":3.5,"siri":8.3},
      {"diff":"SOFA_diff<2","outcome":"Discharge","sex":"Female","sofa":3.8,"siri":9.3},
      {"diff":"SOFA_diff<2","outcome":"Discharge","sex":"Female","sofa":4.0,"siri":9.2},
      {"diff":"SOFA_diff<2","outcome":"Discharge","sex":"Female","sofa":3.9,"siri":8.0},
      {"diff":"SOFA_diff<2","outcome":"Discharge","sex":"Female","sofa":4.1,"siri":7.5},
      {"diff":"SOFA_diff<2","outcome":"Discharge","sex":"Female","sofa":3.8,"siri":6.5},
      {"diff":"SOFA_diff<2","outcome":"Discharge","sex":"Female","sofa":4.2,"siri":6.0},
      {"diff":"SOFA_diff<2","outcome":"Discharge","sex":"Female","sofa":3.9,"siri":5.2},
      {"diff":"SOFA_diff<2","outcome":"Discharge","sex":"Female","sofa":4.0,"siri":4.5},
      {"diff":"SOFA_diff<2","outcome":"Discharge","sex":"Female","sofa":4.1,"siri":3.8},
      {"diff":"SOFA_diff<2","outcome":"Discharge","sex":"Female","sofa":3.7,"siri":10.2},
      {"diff":"SOFA_diff<2","outcome":"Discharge","sex":"Female","sofa":4.2,"siri":12.1},
      {"diff":"SOFA_diff<2","outcome":"Discharge","sex":"Female","sofa":4.4,"siri":12.2},
      {"diff":"SOFA_diff<2","outcome":"Discharge","sex":"Female","sofa":3.9,"siri":3.3},
      {"diff":"SOFA_diff<2","outcome":"Discharge","sex":"Male","sofa":4.0,"siri":12.2},
      {"diff":"SOFA_diff<2","outcome":"Discharge","sex":"Male","sofa":4.2,"siri":12.4},
      {"diff":"SOFA_diff<2","outcome":"Discharge","sex":"Male","sofa":4.1,"siri":11.6},
      {"diff":"SOFA_diff<2","outcome":"Discharge","sex":"Male","sofa":4.0,"siri":11.0},
      {"diff":"SOFA_diff<2","outcome":"Discharge","sex":"Male","sofa":4.1,"siri":10.5},
      {"diff":"SOFA_diff<2","outcome":"Discharge","sex":"Male","sofa":4.2,"siri":9.0},
      {"diff":"SOFA_diff<2","outcome":"Discharge","sex":"Male","sofa":4.0,"siri":8.6},
      {"diff":"SOFA_diff<2","outcome":"Discharge","sex":"Male","sofa":3.9,"siri":7.8},
      {"diff":"SOFA_diff<2","outcome":"Discharge","sex":"Male","sofa":4.3,"siri":7.2},
      {"diff":"SOFA_diff<2","outcome":"Discharge","sex":"Male","sofa":4.1,"siri":6.6},
      {"diff":"SOFA_diff<2","outcome":"Discharge","sex":"Male","sofa":4.3,"siri":5.6},
      {"diff":"SOFA_diff<2","outcome":"Discharge","sex":"Male","sofa":4.1,"siri":5.0},
      {"diff":"SOFA_diff<2","outcome":"Discharge","sex":"Male","sofa":4.2,"siri":4.1},
      {"diff":"SOFA_diff<2","outcome":"Discharge","sex":"Male","sofa":4.0,"siri":3.3},
      {"diff":"SOFA_diff<2","outcome":"Discharge","sex":"Male","sofa":3.8,"siri":2.7},
      {"diff":"SOFA_diff<2","outcome":"Discharge","sex":"Male","sofa":4.3,"siri":8.0},
      {"diff":"SOFA_diff<2","outcome":"Discharge","sex":"Male","sofa":4.4,"siri":4.6},
      {"diff":"SOFA_diff<2","outcome":"Discharge","sex":"Female","sofa":4.7,"siri":3.6},
      {"diff":"SOFA_diff<2","outcome":"Discharge","sex":"Female","sofa":4.8,"siri":4.0},
      {"diff":"SOFA_diff<2","outcome":"Discharge","sex":"Female","sofa":4.9,"siri":4.4},
      {"diff":"SOFA_diff<2","outcome":"Discharge","sex":"Female","sofa":4.7,"siri":4.8},
      {"diff":"SOFA_diff<2","outcome":"Discharge","sex":"Female","sofa":5.0,"siri":3.8},
      {"diff":"SOFA_diff<2","outcome":"Discharge","sex":"Female","sofa":4.9,"siri":5.6},
      {"diff":"SOFA_diff<2","outcome":"Discharge","sex":"Female","sofa":5.0,"siri":6.2},
      {"diff":"SOFA_diff<2","outcome":"Discharge","sex":"Female","sofa":4.8,"siri":7.7},
      {"diff":"SOFA_diff<2","outcome":"Discharge","sex":"Female","sofa":4.7,"siri":9.4},
      {"diff":"SOFA_diff<2","outcome":"Discharge","sex":"Female","sofa":5.1,"siri":9.5},
      {"diff":"SOFA_diff<2","outcome":"Discharge","sex":"Female","sofa":4.9,"siri":12.1},
      {"diff":"SOFA_diff<2","outcome":"Discharge","sex":"Female","sofa":5.0,"siri":12.0},
      {"diff":"SOFA_diff<2","outcome":"Discharge","sex":"Male","sofa":5.1,"siri":16.9},
      {"diff":"SOFA_diff<2","outcome":"Discharge","sex":"Male","sofa":5.3,"siri":17.0},
      {"diff":"SOFA_diff<2","outcome":"Discharge","sex":"Male","sofa":5.2,"siri":12.0},
      {"diff":"SOFA_diff<2","outcome":"Discharge","sex":"Male","sofa":5.3,"siri":11.9},
      {"diff":"SOFA_diff<2","outcome":"Discharge","sex":"Male","sofa":5.2,"siri":10.0},
      {"diff":"SOFA_diff<2","outcome":"Discharge","sex":"Male","sofa":5.1,"siri":9.5},
      {"diff":"SOFA_diff<2","outcome":"Discharge","sex":"Male","sofa":5.3,"siri":8.8},
      {"diff":"SOFA_diff<2","outcome":"Discharge","sex":"Male","sofa":5.1,"siri":7.8},
      {"diff":"SOFA_diff<2","outcome":"Discharge","sex":"Male","sofa":5.3,"siri":7.0},
      {"diff":"SOFA_diff<2","outcome":"Discharge","sex":"Male","sofa":5.2,"siri":6.3},
      {"diff":"SOFA_diff<2","outcome":"Discharge","sex":"Male","sofa":5.4,"siri":5.4},
      {"diff":"SOFA_diff<2","outcome":"Discharge","sex":"Male","sofa":5.2,"siri":4.8},
      {"diff":"SOFA_diff<2","outcome":"Discharge","sex":"Male","sofa":5.3,"siri":4.2},
      {"diff":"SOFA_diff<2","outcome":"Discharge","sex":"Male","sofa":5.4,"siri":3.6},
      {"diff":"SOFA_diff<2","outcome":"Discharge","sex":"Male","sofa":5.0,"siri":3.2},
      {"diff":"SOFA_diff<2","outcome":"Discharge","sex":"Male","sofa":4.8,"siri":9.8},
      {"diff":"SOFA_diff<2","outcome":"Discharge","sex":"Female","sofa":5.7,"siri":2.9},
      {"diff":"SOFA_diff<2","outcome":"Discharge","sex":"Female","sofa":5.8,"siri":3.3},
      {"diff":"SOFA_diff<2","outcome":"Discharge","sex":"Female","sofa":5.7,"siri":3.7},
      {"diff":"SOFA_diff<2","outcome":"Discharge","sex":"Female","sofa":5.9,"siri":4.1},
      {"diff":"SOFA_diff<2","outcome":"Discharge","sex":"Female","sofa":5.8,"siri":4.5},
      {"diff":"SOFA_diff<2","outcome":"Discharge","sex":"Female","sofa":6.0,"siri":5.2},
      {"diff":"SOFA_diff<2","outcome":"Discharge","sex":"Female","sofa":5.9,"siri":6.0},
      {"diff":"SOFA_diff<2","outcome":"Discharge","sex":"Female","sofa":5.7,"siri":7.0},
      {"diff":"SOFA_diff<2","outcome":"Discharge","sex":"Female","sofa":6.0,"siri":8.6},
      {"diff":"SOFA_diff<2","outcome":"Discharge","sex":"Female","sofa":5.8,"siri":8.9},
      {"diff":"SOFA_diff<2","outcome":"Discharge","sex":"Female","sofa":5.9,"siri":5.8},
      {"diff":"SOFA_diff<2","outcome":"Discharge","sex":"Male","sofa":6.3,"siri":11.4},
      {"diff":"SOFA_diff<2","outcome":"Discharge","sex":"Male","sofa":6.1,"siri":10.3},
      {"diff":"SOFA_diff<2","outcome":"Discharge","sex":"Male","sofa":6.2,"siri":9.6},
      {"diff":"SOFA_diff<2","outcome":"Discharge","sex":"Male","sofa":6.3,"siri":9.3},
      {"diff":"SOFA_diff<2","outcome":"Discharge","sex":"Male","sofa":6.1,"siri":8.3},
      {"diff":"SOFA_diff<2","outcome":"Discharge","sex":"Male","sofa":6.2,"siri":7.5},
      {"diff":"SOFA_diff<2","outcome":"Discharge","sex":"Male","sofa":6.0,"siri":6.8},
      {"diff":"SOFA_diff<2","outcome":"Discharge","sex":"Male","sofa":6.3,"siri":6.3},
      {"diff":"SOFA_diff<2","outcome":"Discharge","sex":"Male","sofa":6.1,"siri":5.6},
      {"diff":"SOFA_diff<2","outcome":"Discharge","sex":"Male","sofa":6.3,"siri":5.0},
      {"diff":"SOFA_diff<2","outcome":"Discharge","sex":"Male","sofa":6.2,"siri":4.4},
      {"diff":"SOFA_diff<2","outcome":"Discharge","sex":"Male","sofa":6.1,"siri":3.6},
      {"diff":"SOFA_diff<2","outcome":"Discharge","sex":"Male","sofa":6.3,"siri":3.1},
      {"diff":"SOFA_diff<2","outcome":"Discharge","sex":"Male","sofa":6.0,"siri":9.9},
      {"diff":"SOFA_diff<2","outcome":"Discharge","sex":"Female","sofa":7.0,"siri":7.4},
      {"diff":"SOFA_diff<2","outcome":"Discharge","sex":"Female","sofa":6.8,"siri":7.1},
      {"diff":"SOFA_diff<2","outcome":"Discharge","sex":"Female","sofa":7.0,"siri":6.6},
      {"diff":"SOFA_diff<2","outcome":"Discharge","sex":"Female","sofa":7.2,"siri":5.4},
      {"diff":"SOFA_diff<2","outcome":"Discharge","sex":"Female","sofa":7.1,"siri":4.8},
      {"diff":"SOFA_diff<2","outcome":"Discharge","sex":"Female","sofa":6.9,"siri":4.0},
      {"diff":"SOFA_diff<2","outcome":"Discharge","sex":"Female","sofa":7.0,"siri":3.5},
      {"diff":"SOFA_diff<2","outcome":"Discharge","sex":"Female","sofa":7.4,"siri":14.3},
      {"diff":"SOFA_diff<2","outcome":"Discharge","sex":"Female","sofa":7.5,"siri":14.4},
      {"diff":"SOFA_diff<2","outcome":"Discharge","sex":"Female","sofa":7.2,"siri":10.8},
      {"diff":"SOFA_diff<2","outcome":"Discharge","sex":"Female","sofa":7.4,"siri":10.1},
      {"diff":"SOFA_diff<2","outcome":"Discharge","sex":"Female","sofa":7.0,"siri":6.0},
      {"diff":"SOFA_diff<2","outcome":"Discharge","sex":"Male","sofa":6.8,"siri":12.7},
      {"diff":"SOFA_diff<2","outcome":"Discharge","sex":"Male","sofa":7.0,"siri":12.6},
      {"diff":"SOFA_diff<2","outcome":"Discharge","sex":"Male","sofa":7.2,"siri":10.7},
      {"diff":"SOFA_diff<2","outcome":"Discharge","sex":"Male","sofa":7.0,"siri":10.8},
      {"diff":"SOFA_diff<2","outcome":"Discharge","sex":"Male","sofa":7.3,"siri":9.0},
      {"diff":"SOFA_diff<2","outcome":"Discharge","sex":"Male","sofa":7.2,"siri":8.2},
      {"diff":"SOFA_diff<2","outcome":"Discharge","sex":"Male","sofa":6.9,"siri":7.8},
      {"diff":"SOFA_diff<2","outcome":"Discharge","sex":"Male","sofa":7.1,"siri":7.0},
      {"diff":"SOFA_diff<2","outcome":"Discharge","sex":"Male","sofa":7.3,"siri":6.1},
      {"diff":"SOFA_diff<2","outcome":"Discharge","sex":"Male","sofa":7.0,"siri":5.4},
      {"diff":"SOFA_diff<2","outcome":"Discharge","sex":"Male","sofa":7.1,"siri":4.6},
      {"diff":"SOFA_diff<2","outcome":"Discharge","sex":"Male","sofa":6.9,"siri":4.1},
      {"diff":"SOFA_diff<2","outcome":"Discharge","sex":"Male","sofa":7.3,"siri":3.2},
      {"diff":"SOFA_diff<2","outcome":"Discharge","sex":"Male","sofa":7.2,"siri":3.6},
      {"diff":"SOFA_diff<2","outcome":"Discharge","sex":"Male","sofa":7.0,"siri":5.0},
      {"diff":"SOFA_diff<2","outcome":"Discharge","sex":"Female","sofa":7.7,"siri":10.0},
      {"diff":"SOFA_diff<2","outcome":"Discharge","sex":"Female","sofa":7.9,"siri":9.8},
      {"diff":"SOFA_diff<2","outcome":"Discharge","sex":"Female","sofa":7.8,"siri":8.5},
      {"diff":"SOFA_diff<2","outcome":"Discharge","sex":"Female","sofa":8.0,"siri":7.8},
      {"diff":"SOFA_diff<2","outcome":"Discharge","sex":"Female","sofa":8.2,"siri":6.9},
      {"diff":"SOFA_diff<2","outcome":"Discharge","sex":"Female","sofa":7.9,"siri":6.2},
      {"diff":"SOFA_diff<2","outcome":"Discharge","sex":"Female","sofa":8.0,"siri":5.4},
      {"diff":"SOFA_diff<2","outcome":"Discharge","sex":"Female","sofa":7.8,"siri":4.1},
      {"diff":"SOFA_diff<2","outcome":"Discharge","sex":"Female","sofa":8.1,"siri":3.5},
      {"diff":"SOFA_diff<2","outcome":"Discharge","sex":"Female","sofa":7.9,"siri":3.8},
      {"diff":"SOFA_diff<2","outcome":"Discharge","sex":"Female","sofa":8.3,"siri":8.2},
      {"diff":"SOFA_diff<2","outcome":"Discharge","sex":"Male","sofa":8.2,"siri":8.4},
      {"diff":"SOFA_diff<2","outcome":"Discharge","sex":"Male","sofa":8.0,"siri":7.6},
      {"diff":"SOFA_diff<2","outcome":"Discharge","sex":"Male","sofa":8.3,"siri":6.6},
      {"diff":"SOFA_diff<2","outcome":"Discharge","sex":"Male","sofa":8.1,"siri":5.9},
      {"diff":"SOFA_diff<2","outcome":"Discharge","sex":"Male","sofa":8.2,"siri":5.2},
      {"diff":"SOFA_diff<2","outcome":"Discharge","sex":"Male","sofa":8.0,"siri":4.7},
      {"diff":"SOFA_diff<2","outcome":"Discharge","sex":"Male","sofa":8.3,"siri":3.9},
      {"diff":"SOFA_diff<2","outcome":"Discharge","sex":"Male","sofa":8.0,"siri":3.0},
      {"diff":"SOFA_diff<2","outcome":"Discharge","sex":"Male","sofa":8.4,"siri":2.9},
      {"diff":"SOFA_diff<2","outcome":"Discharge","sex":"Male","sofa":8.5,"siri":8.1},
      {"diff":"SOFA_diff<2","outcome":"Discharge","sex":"Male","sofa":8.2,"siri":6.2},
      {"diff":"SOFA_diff<2","outcome":"Discharge","sex":"Female","sofa":8.8,"siri":7.8},
      {"diff":"SOFA_diff<2","outcome":"Discharge","sex":"Female","sofa":9.0,"siri":7.2},
      {"diff":"SOFA_diff<2","outcome":"Discharge","sex":"Female","sofa":9.1,"siri":6.3},
      {"diff":"SOFA_diff<2","outcome":"Discharge","sex":"Female","sofa":8.9,"siri":5.7},
      {"diff":"SOFA_diff<2","outcome":"Discharge","sex":"Female","sofa":9.0,"siri":4.9},
      {"diff":"SOFA_diff<2","outcome":"Discharge","sex":"Female","sofa":8.8,"siri":4.4},
      {"diff":"SOFA_diff<2","outcome":"Discharge","sex":"Female","sofa":9.1,"siri":3.7},
      {"diff":"SOFA_diff<2","outcome":"Discharge","sex":"Female","sofa":8.7,"siri":3.2},
      {"diff":"SOFA_diff<2","outcome":"Discharge","sex":"Female","sofa":9.2,"siri":5.1},
      {"diff":"SOFA_diff<2","outcome":"Discharge","sex":"Male","sofa":9.2,"siri":8.4},
      {"diff":"SOFA_diff<2","outcome":"Discharge","sex":"Male","sofa":9.3,"siri":8.3},
      {"diff":"SOFA_diff<2","outcome":"Discharge","sex":"Male","sofa":9.1,"siri":6.8},
      {"diff":"SOFA_diff<2","outcome":"Discharge","sex":"Male","sofa":9.2,"siri":6.0},
      {"diff":"SOFA_diff<2","outcome":"Discharge","sex":"Male","sofa":9.3,"siri":5.4},
      {"diff":"SOFA_diff<2","outcome":"Discharge","sex":"Male","sofa":9.2,"siri":4.6},
      {"diff":"SOFA_diff<2","outcome":"Discharge","sex":"Male","sofa":9.4,"siri":3.9},
      {"diff":"SOFA_diff<2","outcome":"Discharge","sex":"Male","sofa":9.1,"siri":3.2},
      {"diff":"SOFA_diff<2","outcome":"Discharge","sex":"Male","sofa":8.9,"siri":5.7},
      {"diff":"SOFA_diff<2","outcome":"Discharge","sex":"Female","sofa":9.6,"siri":7.6},
      {"diff":"SOFA_diff<2","outcome":"Discharge","sex":"Female","sofa":9.8,"siri":7.4},
      {"diff":"SOFA_diff<2","outcome":"Discharge","sex":"Female","sofa":10.0,"siri":6.6},
      {"diff":"SOFA_diff<2","outcome":"Discharge","sex":"Female","sofa":9.8,"siri":6.0},
      {"diff":"SOFA_diff<2","outcome":"Discharge","sex":"Female","sofa":9.7,"siri":5.3},
      {"diff":"SOFA_diff<2","outcome":"Discharge","sex":"Female","sofa":10.0,"siri":4.8},
      {"diff":"SOFA_diff<2","outcome":"Discharge","sex":"Female","sofa":9.9,"siri":3.9},
      {"diff":"SOFA_diff<2","outcome":"Discharge","sex":"Female","sofa":10.1,"siri":7.2},
      {"diff":"SOFA_diff<2","outcome":"Discharge","sex":"Female","sofa":10.0,"siri":5.7},
      {"diff":"SOFA_diff<2","outcome":"Discharge","sex":"Male","sofa":10.2,"siri":8.8},
      {"diff":"SOFA_diff<2","outcome":"Discharge","sex":"Male","sofa":10.3,"siri":8.6},
      {"diff":"SOFA_diff<2","outcome":"Discharge","sex":"Male","sofa":10.0,"siri":8.2},
      {"diff":"SOFA_diff<2","outcome":"Discharge","sex":"Male","sofa":10.1,"siri":7.8},
      {"diff":"SOFA_diff<2","outcome":"Discharge","sex":"Male","sofa":10.2,"siri":7.0},
      {"diff":"SOFA_diff<2","outcome":"Discharge","sex":"Male","sofa":10.3,"siri":6.2},
      {"diff":"SOFA_diff<2","outcome":"Discharge","sex":"Male","sofa":10.1,"siri":5.6},
      {"diff":"SOFA_diff<2","outcome":"Discharge","sex":"Male","sofa":10.2,"siri":4.9},
      {"diff":"SOFA_diff<2","outcome":"Discharge","sex":"Male","sofa":10.3,"siri":4.0},
      {"diff":"SOFA_diff<2","outcome":"Discharge","sex":"Male","sofa":10.0,"siri":3.5},
      {"diff":"SOFA_diff<2","outcome":"Discharge","sex":"Male","sofa":10.3,"siri":3.3},
      {"diff":"SOFA_diff<2","outcome":"Discharge","sex":"Female","sofa":10.8,"siri":4.1},
      {"diff":"SOFA_diff<2","outcome":"Discharge","sex":"Female","sofa":10.9,"siri":4.4},
      {"diff":"SOFA_diff<2","outcome":"Discharge","sex":"Female","sofa":10.8,"siri":3.7},
      {"diff":"SOFA_diff<2","outcome":"Discharge","sex":"Female","sofa":11.0,"siri":4.8},
      {"diff":"SOFA_diff<2","outcome":"Discharge","sex":"Female","sofa":10.9,"siri":5.6},
      {"diff":"SOFA_diff<2","outcome":"Discharge","sex":"Female","sofa":10.7,"siri":6.3},
      {"diff":"SOFA_diff<2","outcome":"Discharge","sex":"Female","sofa":11.0,"siri":6.8},
      {"diff":"SOFA_diff<2","outcome":"Discharge","sex":"Female","sofa":10.9,"siri":5.2},
      {"diff":"SOFA_diff<2","outcome":"Discharge","sex":"Female","sofa":10.8,"siri":3.1},
      {"diff":"SOFA_diff<2","outcome":"Discharge","sex":"Female","sofa":11.0,"siri":2.9},
      {"diff":"SOFA_diff<2","outcome":"Discharge","sex":"Male","sofa":11.2,"siri":8.7},
      {"diff":"SOFA_diff<2","outcome":"Discharge","sex":"Male","sofa":11.1,"siri":7.9},
      {"diff":"SOFA_diff<2","outcome":"Discharge","sex":"Male","sofa":11.3,"siri":7.5},
      {"diff":"SOFA_diff<2","outcome":"Discharge","sex":"Male","sofa":11.2,"siri":6.2},
      {"diff":"SOFA_diff<2","outcome":"Discharge","sex":"Male","sofa":11.0,"siri":5.7},
      {"diff":"SOFA_diff<2","outcome":"Discharge","sex":"Male","sofa":11.3,"siri":5.0},
      {"diff":"SOFA_diff<2","outcome":"Discharge","sex":"Male","sofa":11.2,"siri":4.1},
      {"diff":"SOFA_diff<2","outcome":"Discharge","sex":"Male","sofa":11.1,"siri":3.5},
      {"diff":"SOFA_diff<2","outcome":"Discharge","sex":"Male","sofa":11.3,"siri":3.1},
      {"diff":"SOFA_diff<2","outcome":"Discharge","sex":"Male","sofa":11.4,"siri":3.3},
      {"diff":"SOFA_diff<2","outcome":"Discharge","sex":"Female","sofa":11.7,"siri":11.4},
      {"diff":"SOFA_diff<2","outcome":"Discharge","sex":"Female","sofa":11.9,"siri":11.5},
      {"diff":"SOFA_diff<2","outcome":"Discharge","sex":"Female","sofa":12.0,"siri":6.7},
      {"diff":"SOFA_diff<2","outcome":"Discharge","sex":"Female","sofa":11.9,"siri":6.0},
      {"diff":"SOFA_diff<2","outcome":"Discharge","sex":"Female","sofa":12.1,"siri":5.6},
      {"diff":"SOFA_diff<2","outcome":"Discharge","sex":"Female","sofa":11.8,"siri":5.4},
      {"diff":"SOFA_diff<2","outcome":"Discharge","sex":"Female","sofa":12.8,"siri":9.2},
      {"diff":"SOFA_diff<2","outcome":"Discharge","sex":"Female","sofa":13.0,"siri":9.2},
      {"diff":"SOFA_diff<2","outcome":"Discharge","sex":"Male","sofa":12.2,"siri":13.6},
      {"diff":"SOFA_diff<2","outcome":"Discharge","sex":"Male","sofa":12.3,"siri":12.4},
      {"diff":"SOFA_diff<2","outcome":"Discharge","sex":"Male","sofa":12.0,"siri":12.2},
      {"diff":"SOFA_diff<2","outcome":"Discharge","sex":"Male","sofa":12.4,"siri":12.2},
      {"diff":"SOFA_diff<2","outcome":"Discharge","sex":"Male","sofa":12.1,"siri":11.0},
      {"diff":"SOFA_diff<2","outcome":"Discharge","sex":"Male","sofa":12.2,"siri":10.9},
      {"diff":"SOFA_diff<2","outcome":"Discharge","sex":"Male","sofa":12.4,"siri":10.8},
      {"diff":"SOFA_diff<2","outcome":"Discharge","sex":"Male","sofa":12.1,"siri":9.7},
      {"diff":"SOFA_diff<2","outcome":"Discharge","sex":"Male","sofa":12.3,"siri":9.6},
      {"diff":"SOFA_diff<2","outcome":"Discharge","sex":"Male","sofa":12.2,"siri":7.3},
      {"diff":"SOFA_diff<2","outcome":"Discharge","sex":"Male","sofa":12.3,"siri":6.4},
      {"diff":"SOFA_diff<2","outcome":"Discharge","sex":"Male","sofa":12.4,"siri":5.8},
      {"diff":"SOFA_diff<2","outcome":"Discharge","sex":"Female","sofa":12.8,"siri":7.8},
      {"diff":"SOFA_diff<2","outcome":"Discharge","sex":"Female","sofa":12.9,"siri":5.0},
      {"diff":"SOFA_diff<2","outcome":"Discharge","sex":"Female","sofa":12.7,"siri":4.1},
      {"diff":"SOFA_diff<2","outcome":"Discharge","sex":"Female","sofa":12.8,"siri":4.8},
      {"diff":"SOFA_diff<2","outcome":"Discharge","sex":"Female","sofa":13.1,"siri":4.8},
      {"diff":"SOFA_diff<2","outcome":"Discharge","sex":"Male","sofa":13.1,"siri":6.0},
      {"diff":"SOFA_diff<2","outcome":"Discharge","sex":"Male","sofa":13.2,"siri":5.5},
      {"diff":"SOFA_diff<2","outcome":"Discharge","sex":"Male","sofa":13.3,"siri":5.1},
      {"diff":"SOFA_diff<2","outcome":"Discharge","sex":"Male","sofa":13.2,"siri":4.6},
      {"diff":"SOFA_diff<2","outcome":"Discharge","sex":"Male","sofa":13.3,"siri":4.3},
      {"diff":"SOFA_diff<2","outcome":"Discharge","sex":"Male","sofa":13.5,"siri":4.3},
      {"diff":"SOFA_diff<2","outcome":"Discharge","sex":"Male","sofa":13.0,"siri":5.7},
      {"diff":"SOFA_diff<2","outcome":"Discharge","sex":"Male","sofa":14.8,"siri":11.2},
      {"diff":"SOFA_diff<2","outcome":"Discharge","sex":"Male","sofa":14.8,"siri":7.4},
      {"diff":"SOFA_diff<2","outcome":"Discharge","sex":"Male","sofa":15.1,"siri":7.4},
      {"diff":"SOFA_diff<2","outcome":"Discharge","sex":"Male","sofa":14.9,"siri":6.0},
      {"diff":"SOFA_diff<2","outcome":"Discharge","sex":"Male","sofa":15.0,"siri":5.7},
      {"diff":"SOFA_diff<2","outcome":"Discharge","sex":"Male","sofa":15.1,"siri":5.6},
      {"diff":"SOFA_diff<2","outcome":"Discharge","sex":"Male","sofa":14.9,"siri":5.4}
    ]
  },
  "facet": {
    "column": {
      "field": "diff",
      "type": "nominal",
      "title": "SOFA_1",
      "header": {"labelOrient": "top", "titleOrient": "bottom",
                 "labelFontSize": 12, "labelFontWeight": "bold", "labelColor": "#2e9a2e", "labelFont": "Liberation Sans", "labelPadding": 4,
                 "titleFontSize": 12, "titleFontWeight": "bold", "titleColor": "#2e9a2e", "titleFont": "Liberation Sans", "titlePadding": -8}
    },
    "row": {
      "field": "outcome",
      "type": "nominal",
      "title": "SIRI",
      "header": {"labelOrient": "right", "titleOrient": "left", "labelAngle": 90,
                 "labelFontSize": 12, "labelFontWeight": "bold", "labelColor": "#2e9a2e", "labelFont": "Liberation Sans", "labelPadding": 4,
                 "titleFontSize": 12, "titleFontWeight": "bold", "titleColor": "#2e9a2e", "titleFont": "Liberation Sans", "titlePadding": -14}
    }
  },
  "spacing": 5,
  "spec": {
    "width": 304,
    "height": 205,
    "encoding": {
      "x": {"field": "sofa", "type": "quantitative", "title": null,
            "scale": {"domain": [-1.6, 19.6], "nice": false, "zero": false},
            "axis": {"values": [0, 4, 8, 12, 16]}},
      "y": {"field": "siri", "type": "quantitative", "title": null,
            "scale": {"domain": [0, 21], "nice": false, "zero": false},
            "axis": {"values": [2, 4, 6, 8, 10, 12, 14, 16, 18, 20]}},
      "color": {"field": "sex", "type": "nominal", "title": "Sex",
                "scale": {"domain": ["Female", "Male"], "range": ["#8c3626", "#4f8a8c"]},
                "legend": {"orient": "none", "legendX": 651, "legendY": 178,
                           "symbolType": "stroke", "symbolStrokeWidth": 2.8, "symbolSize": 360, "symbolOpacity": 1}}
    },
    "layer": [
      {
        "transform": [{"filter": "!datum.fit"}],
        "mark": {"type": "point", "shape": "diamond", "filled": true, "size": 48, "opacity": 0.4, "strokeWidth": 0}
      },
      {
        "transform": [{"filter": "datum.fit"}],
        "mark": {"type": "line", "strokeWidth": 2.8}
      }
    ]
  },
  "config": {
    "view": {"stroke": null},
    "font": "Liberation Sans",
    "axis": {
      "grid": false, "ticks": false,
      "domainColor": "#8fe08f", "domainWidth": 1.6,
      "labelColor": "#1d7d1d", "labelFontWeight": "bold", "labelFontSize": 10, "labelPadding": 5
    },
    "legend": {
      "titleFontWeight": "normal", "titleFontSize": 11, "titleColor": "#333333", "titlePadding": 4,
      "labelFontSize": 12, "labelColor": "#222222", "rowPadding": 7
    }
  }
}
